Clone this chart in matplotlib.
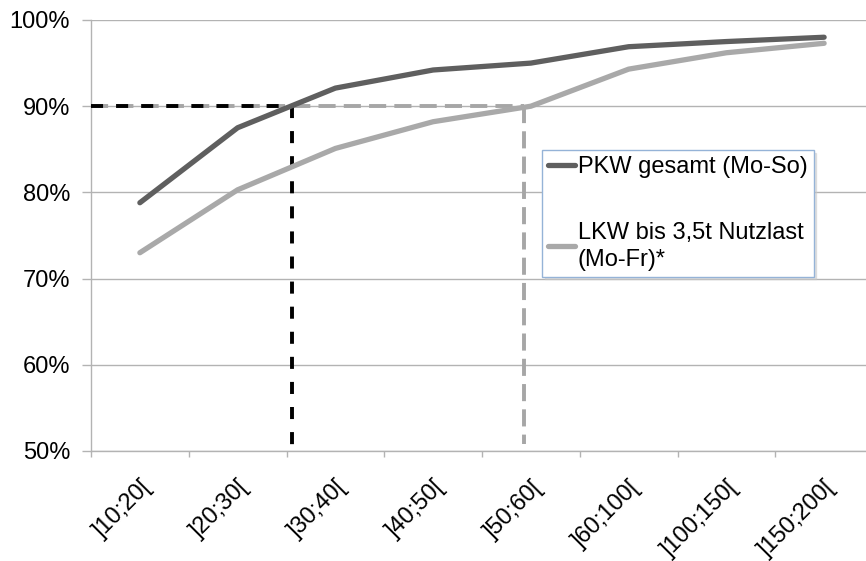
import matplotlib
matplotlib.use("Agg")
import matplotlib.pyplot as plt
import numpy as np

plt.rcParams['font.family'] = ['Liberation Sans', 'DejaVu Sans']

# Distance classes (km)
categories = [']10;20[', ']20;30[', ']30;40[', ']40;50[', ']50;60[',
              ']60;100[', ']100;150[', ']150;200[']

# Cumulative share of trips (%)
pkw = [78.8, 87.5, 92.1, 94.2, 95.0, 96.9, 97.5, 98.0]
lkw = [73.0, 80.3, 85.1, 88.2, 90.0, 94.3, 96.2, 97.3]

pkw_label = 'PKW gesamt (Mo-So)'
lkw_label = 'LKW bis 3,5t Nutzlast\n(Mo-Fr)*'

# 90 % threshold and the class position where each series reaches it
threshold = 90.0
pkw_cross = 1.56
lkw_cross = 3.93
lkw_cross_bottom = 50.8

yticks = [50, 60, 70, 80, 90, 100]

FS = 17

W, H = 866, 561
fig = plt.figure(figsize=(W / 100, H / 100), dpi=100)
left, right, top, bottom = 91, 873, 20, 451
ax = fig.add_axes([left / W, 1 - bottom / H, (right - left) / W, (bottom - top) / H])

x = np.arange(len(categories))

grid_c = '#B3B3B3'
ax.set_ylim(50, 100)
ax.set_xlim(-0.5, len(categories) - 0.5)
ax.set_yticks(yticks)
ax.set_yticklabels([f'{v}%' for v in yticks], fontsize=FS)
ax.yaxis.grid(True, color=grid_c, linewidth=1)
ax.set_axisbelow(True)

for s in ['top', 'right']:
    ax.spines[s].set_visible(False)
for s in ['left', 'bottom']:
    ax.spines[s].set_color(grid_c)
    ax.spines[s].set_linewidth(1)

# category boundaries carry tick marks, labels sit at the centres
ax.set_xticks(np.arange(-0.5, len(categories), 1.0))
ax.set_xticklabels([])
ax.set_xticks(x, minor=True)
ax.set_xticklabels(categories, minor=True, rotation=45, ha='right', va='top',
                   rotation_mode='anchor', fontsize=FS)
ax.tick_params(axis='x', which='major', length=4.5, color=grid_c, width=1, direction='out')
ax.tick_params(axis='x', which='minor', length=0, pad=18)
ax.tick_params(axis='y', length=6.5, color=grid_c, width=1, pad=8.5, labelsize=FS)

# threshold guide lines
grey_dash = dict(color='#A6A6A6', lw=2.8, dashes=(4.4, 2.1), dash_capstyle='butt', zorder=2)
black_dash = dict(color='black', lw=2.8, dashes=(3.1, 3.35), dash_capstyle='butt', zorder=3)
ax.plot([-0.5, lkw_cross], [threshold, threshold], **grey_dash)
ax.plot([lkw_cross, lkw_cross], [threshold, lkw_cross_bottom], **grey_dash)
ax.plot([-0.5, pkw_cross], [threshold, threshold], **black_dash)
ax.plot([pkw_cross, pkw_cross], [threshold, 50], **black_dash)

l1, = ax.plot(x, pkw, color='#5F5F5F', lw=3.8, solid_capstyle='round',
              solid_joinstyle='round', zorder=5, label=pkw_label)
l2, = ax.plot(x, lkw, color='#A9A9A9', lw=3.8, solid_capstyle='round',
              solid_joinstyle='round', zorder=4, label=lkw_label)

leg = ax.legend(handles=[l1, l2], loc='upper left',
                bbox_to_anchor=(542 / W, 1 - 150 / H), bbox_transform=fig.transFigure,
                borderaxespad=0, fontsize=FS, frameon=True, fancybox=False,
                edgecolor='#95B3D7', handlelength=1.15, handletextpad=0.12,
                borderpad=0.25, labelspacing=1.85,
                shadow={'ox': 2, 'oy': -2, 'color': '#C8C8C8'})
leg.get_frame().set_linewidth(1.0)
leg.set_zorder(10)
for t in leg.get_texts():
    t.set_linespacing(1.3)

fig.savefig('out.png', dpi=100)
